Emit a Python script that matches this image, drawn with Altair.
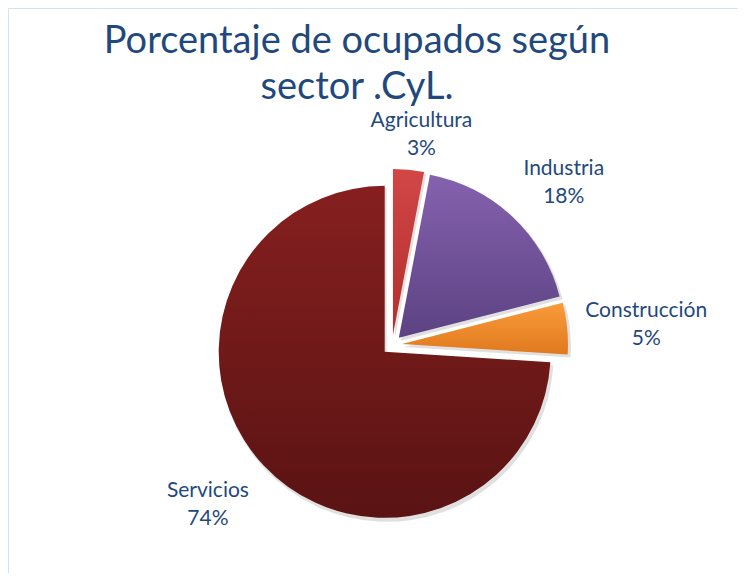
import altair as alt
import pandas as pd

# ---- data ----
categories = ["Agricultura", "Industria", "Construcción", "Servicios"]
values = [3, 18, 5, 74]
pct_labels = ["3%", "18%", "5%", "74%"]
title_lines = ["Porcentaje de ocupados según", "sector .CyL."]

# ---- layout / style ----
W, H = 730, 565
CX, CY = 384, 337          # pie centre (chart px)
R = 166                    # pie radius
EXPLODE = 10               # explosion distance
label_radius = [212, 236, 255, 244]
label_dtheta = [0.045, 0.061, 0.016, 0.038]   # radians nudges
grad_top = ["#d24646", "#8562ae", "#fa9b3a", "#861f1f"]
grad_bot = ["#b22e2e", "#5c4283", "#df7a1e", "#5a1313"]
TXT = "#1f497d"
FONT = "Lato"

df = pd.DataFrame({
    "cat": categories,
    "value": values,
    "pct": pct_labels,
    "order": list(range(len(categories))),
    "lr": label_radius,
    "dth": label_dtheta,
})

base = (
    alt.Chart(df)
    .transform_window(cum="sum(value)", sort=[alt.SortField("order")], frame=[None, 0])
    .transform_joinaggregate(total="sum(value)")
    .transform_calculate(
        t0="2*PI*(datum.cum-datum.value)/datum.total",
        t1="2*PI*datum.cum/datum.total",
    )
    .transform_calculate(mid="(datum.t0+datum.t1)/2")
    .transform_calculate(
        cx=f"{CX}+{EXPLODE}*sin(datum.mid)",
        cy=f"{CY}-{EXPLODE}*cos(datum.mid)",
        lx=f"{CX}+datum.lr*sin(datum.mid+datum.dth)",
        ly=f"{CY}-datum.lr*cos(datum.mid+datum.dth)",
    )
)

layers = []

# soft shadow
shadow = base.transform_calculate(sx="datum.cx+2", sy="datum.cy+3").mark_arc(
    outerRadius=R + 1, color="#000000", opacity=0.12
).encode(
    theta=alt.Theta("t0:Q", scale=None),
    theta2="t1:Q",
    x=alt.X("sx:Q", scale=None),
    y=alt.Y("sy:Q", scale=None),
)
layers.append(shadow)

for i, c in enumerate(categories):
    g = alt.Gradient(
        gradient="linear",
        stops=[alt.GradientStop(color=grad_top[i], offset=0),
               alt.GradientStop(color=grad_bot[i], offset=1)],
        x1=0, x2=0, y1=0, y2=1,
    )
    layers.append(
        base.transform_filter(alt.datum.cat == c)
        .mark_arc(outerRadius=R, color=g)
        .encode(
            theta=alt.Theta("t0:Q", scale=None),
            theta2="t1:Q",
            x=alt.X("cx:Q", scale=None),
            y=alt.Y("cy:Q", scale=None),
        )
    )

names = base.transform_calculate(ny="datum.ly-14").mark_text(
    font=FONT, fontSize=21, color=TXT, align="center", baseline="middle"
).encode(x=alt.X("lx:Q", scale=None), y=alt.Y("ny:Q", scale=None), text="cat:N")

pcts = base.transform_calculate(py="datum.ly+14").mark_text(
    font=FONT, fontSize=21, color=TXT, align="center", baseline="middle"
).encode(x=alt.X("lx:Q", scale=None), y=alt.Y("py:Q", scale=None), text="pct:N")

tdf = pd.DataFrame({"t": title_lines, "i": list(range(len(title_lines)))})
title = alt.Chart(tdf).transform_calculate(
    ty="45+datum.i*46"
).mark_text(
    font=FONT, fontSize=38, color=TXT, align="center", baseline="alphabetic"
).encode(x=alt.value(349), y=alt.Y("ty:Q", scale=None), text="t:N")

border_l = alt.Chart(pd.DataFrame({"a": [0]})).mark_rule(color="#d6e2f0", strokeWidth=2).encode(
    x=alt.value(0), y=alt.value(0), y2=alt.value(H)
)
border_t = alt.Chart(pd.DataFrame({"a": [0]})).mark_rule(color="#d6e2f0", strokeWidth=2).encode(
    x=alt.value(0), x2=alt.value(W), y=alt.value(0)
)

chart = alt.layer(border_l, border_t, *layers, names, pcts, title).properties(
    width=W, height=H, padding=0, autosize=alt.AutoSizeParams(type="none")
).configure_view(stroke=None).configure(background="white")

chart.save("out.html", embed_options={"renderer": "svg", "actions": False})
